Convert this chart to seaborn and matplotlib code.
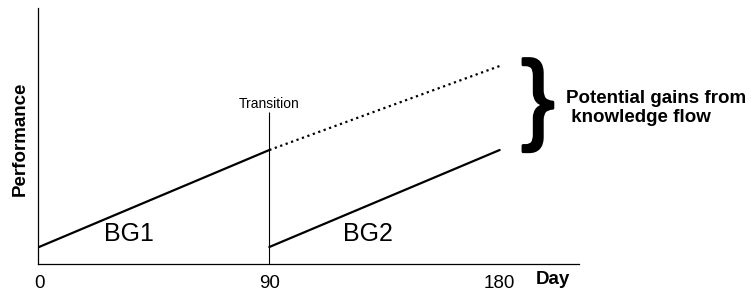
import pandas as pd
import matplotlib
matplotlib.use("Agg")
import matplotlib.pyplot as plt
import matplotlib.patheffects as pe
import seaborn as sns

# -------------------------------
# Data
# -------------------------------
days_bg1 = [0, 90]
perf_bg1 = [17, 114]

days_potential = [90, 180]
perf_potential = [114, 198]

days_bg2 = [90, 180]
perf_bg2 = [17, 114]

transition_day = 90
transition_top = 152

x_ticks = [0, 90, 180]
x_tick_labels = ["0", "90", "180"]

# -------------------------------
# Style
# -------------------------------
sns.set_theme(style="white")
plt.rcParams['font.family'] = ['Liberation Sans', 'DejaVu Sans']
plt.rcParams['text.color'] = 'black'
plt.rcParams['xtick.color'] = 'black'

fig = plt.figure(figsize=(7.51, 2.92), dpi=100)
ax = fig.add_axes([38 / 751, 28 / 292, 541 / 751, 256 / 292])

df_bg1 = pd.DataFrame({"day": days_bg1, "perf": perf_bg1})
df_pot = pd.DataFrame({"day": days_potential, "perf": perf_potential})
df_bg2 = pd.DataFrame({"day": days_bg2, "perf": perf_bg2})

sns.lineplot(data=df_bg1, x="day", y="perf", color="black", lw=1.6, ax=ax)
sns.lineplot(data=df_pot, x="day", y="perf", color="black", lw=1.6,
             linestyle=(0, (1, 1.6)), ax=ax)
sns.lineplot(data=df_bg2, x="day", y="perf", color="black", lw=1.6, ax=ax)
ax.vlines(transition_day, 0, transition_top, color="black", lw=0.8)

ax.set_xlim(-0.4, 211)
ax.set_ylim(0, 256)
ax.set_xticks(x_ticks)
ax.set_xticklabels(x_tick_labels, fontsize=13.5, color="black")
ax.set_yticks([])
ax.tick_params(axis="x", length=0, pad=8)
ax.set_xlabel("")
ax.set_ylabel("")

for side in ["top", "right"]:
    ax.spines[side].set_visible(False)
for side in ["left", "bottom"]:
    ax.spines[side].set_color("black")
    ax.spines[side].set_linewidth(0.9)

# labels in the plot
ax.text(transition_day, transition_top + 1, "Transition", ha="center", va="bottom",
        fontsize=10, color="black")
ax.text(35, 30, "BG1", ha="center", va="center", fontsize=18, color="black")
ax.text(128.5, 30, "BG2", ha="center", va="center", fontsize=18, color="black")

fig.text(553 / 751, 12 / 292, "Day", ha="center", va="center", fontsize=13.5, fontweight="bold")
fig.text(20 / 751, 153 / 292, "Performance", rotation=90, ha="center", va="center",
         fontsize=13.5, fontweight="bold")

# brace and annotation
fig.text(538 / 751, 187 / 292, "}", ha="center", va="center", fontsize=72,
         path_effects=[pe.withStroke(linewidth=2, foreground="black")])
fig.text(566 / 751, 184 / 292, "Potential gains from\n knowledge flow", ha="left", va="center",
         fontsize=13.5, fontweight="bold", linespacing=1.2)

fig.savefig("out.png", dpi=100)
